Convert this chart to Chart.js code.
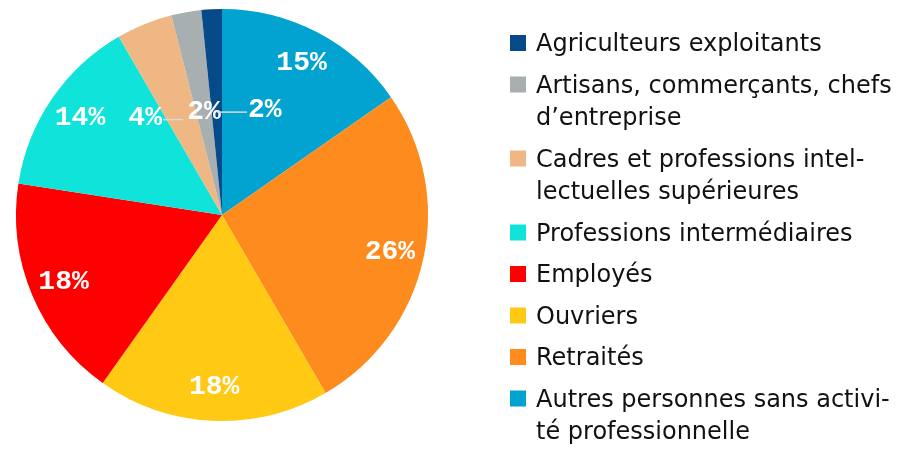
<!DOCTYPE html>
<html>
<head>
<meta charset="utf-8">
<script src="https://cdn.jsdelivr.net/npm/chart.js@4/dist/chart.umd.min.js"></script>
<style>
  html, body { margin: 0; padding: 0; background: #fff; }
  #wrap { width: 911px; height: 449px; position: relative; }
</style>
</head>
<body>
<div id="wrap"><canvas id="chart"></canvas></div>
<script>
/* Categories (legend order), one entry per line of the legend text */
var categories = [
  ['Agriculteurs exploitants'],
  ['Artisans, commerçants, chefs', 'd\u2019entreprise'],
  ['Cadres et professions intel-', 'lectuelles supérieures'],
  ['Professions intermédiaires'],
  ['Employés'],
  ['Ouvriers'],
  ['Retraités'],
  ['Autres personnes sans activi-', 'té professionnelle']
];

/* Share of each category, in % */
var shares = [1.6, 2.35, 4.4, 14.2, 17.6, 18.2, 26.3, 15.3];

/* One colour per category */
var colours = ['#064a89', '#a7afb0', '#eeb784', '#10e4da', '#fe0000', '#ffc914', '#fe8b1e', '#03a3d1'];

/* Small slices get their label pushed sideways (px), keyed by category index */
var calloutShift = { 0: 48, 1: 0, 2: -38 };

/* The original runs counter-clockwise from 12 o'clock; Chart.js runs clockwise,
   so the dataset is fed in reverse order */
var n = categories.length;
var pieLabels = categories.slice().reverse();
var pieData = shares.slice().reverse();
var pieColours = colours.slice().reverse();

var sliceLabels = {
  id: 'sliceLabels',
  afterDatasetsDraw: function(chart) {
    var ctx = chart.ctx;
    var meta = chart.getDatasetMeta(0);
    var data = chart.data.datasets[0].data;
    var total = data.reduce(function(a, b) { return a + b; }, 0);
    ctx.save();
    ctx.font = 'bold 28px "Liberation Mono", monospace';
    ctx.fillStyle = '#ffffff';
    ctx.textBaseline = 'middle';
    ctx.textAlign = 'center';
    meta.data.forEach(function(arc, i) {
      var p = arc.getProps(['x', 'y', 'startAngle', 'endAngle', 'outerRadius'], true);
      var mid = (p.startAngle + p.endAngle) / 2;
      var pct = data[i] / total * 100;
      var text = Math.round(pct) + '%';
      var cat = n - 1 - i;
      if (pct >= 5) {
        var r = p.outerRadius * 0.835;
        ctx.fillText(text, p.x + Math.cos(mid) * r, p.y + Math.sin(mid) * r);
      } else {
        var ax = p.x + Math.cos(mid) * p.outerRadius / 2;
        var ay = p.y + Math.sin(mid) * p.outerRadius / 2;
        var dx = calloutShift[cat] || 0;
        var w = ctx.measureText(text).width;
        var lx = ax + dx;
        ctx.fillText(text, lx, ay - 2);
        if (dx !== 0) {
          var edge = dx > 0 ? lx - w / 2 - 1 : lx + w / 2 + 1;
          ctx.strokeStyle = '#d9d9d9';
          ctx.lineWidth = 1.5;
          ctx.beginPath();
          ctx.moveTo(ax, ay);
          ctx.lineTo(edge, ay);
          ctx.stroke();
        }
      }
    });
    ctx.restore();
  }
};

/* Legend drawn on the canvas, from the categories and colours */
var sideLegend = {
  id: 'sideLegend',
  afterDraw: function(chart) {
    var ctx = chart.ctx;
    var x0 = 510, textX = 536, y = 51;
    var lineH = 32.5, itemGap = 41.5, box = 16;
    ctx.save();
    ctx.font = '24px "DejaVu Sans", sans-serif';
    ctx.textBaseline = 'alphabetic';
    ctx.textAlign = 'left';
    categories.forEach(function(lines, i) {
      ctx.fillStyle = colours[i];
      ctx.fillRect(x0, y - 16, box, box);
      ctx.fillStyle = '#111111';
      lines.forEach(function(line, j) {
        ctx.fillText(line, textX, y + j * lineH);
      });
      y += (lines.length - 1) * lineH + itemGap;
    });
    ctx.restore();
  }
};

new Chart(document.getElementById('chart').getContext('2d'), {
  type: 'pie',
  data: {
    labels: pieLabels,
    datasets: [{
      data: pieData,
      backgroundColor: pieColours,
      borderWidth: 0
    }]
  },
  options: {
    responsive: true,
    maintainAspectRatio: false,
    animation: false,
    layout: { padding: { left: 16, right: 483, top: 9, bottom: 28 } },
    plugins: {
      legend: { display: false },
      tooltip: { enabled: false }
    }
  },
  plugins: [sliceLabels, sideLegend]
});
</script>
</body>
</html>
